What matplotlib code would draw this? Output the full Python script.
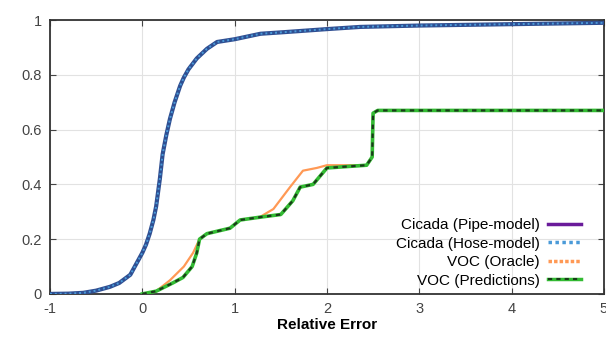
import matplotlib.pyplot as plt
from matplotlib.lines import Line2D

plt.rcParams['font.family'] = ['Liberation Sans', 'DejaVu Sans']
plt.rcParams['axes.unicode_minus'] = False

# CDF curves
cicada_x = [-1, -0.8, -0.64, -0.5, -0.35, -0.25, -0.13, 0, 0.04, 0.08, 0.12, 0.15,
            0.19, 0.22, 0.26, 0.30, 0.35, 0.41, 0.45, 0.5, 0.59, 0.7, 0.81, 1.0,
            1.28, 1.5, 1.71, 2.0, 2.36, 3, 4, 5]
cicada_y = [0, 0.001, 0.004, 0.012, 0.026, 0.04, 0.07, 0.15, 0.18, 0.22, 0.27, 0.32,
            0.42, 0.51, 0.58, 0.64, 0.70, 0.76, 0.79, 0.82, 0.86, 0.895, 0.92, 0.93,
            0.95, 0.955, 0.96, 0.967, 0.975, 0.98, 0.985, 0.99]

pred_x = [0, 0.15, 0.33, 0.44, 0.54, 0.59, 0.62, 0.70, 0.95, 1.06, 1.27, 1.5,
          1.63, 1.71, 1.85, 2.0, 2.43, 2.49, 2.5, 2.55, 5]
pred_y = [0, 0.01, 0.04, 0.06, 0.10, 0.15, 0.2, 0.22, 0.24, 0.27, 0.28, 0.29,
          0.34, 0.39, 0.40, 0.46, 0.47, 0.50, 0.66, 0.67, 0.67]

oracle_x = [0, 0.15, 0.3, 0.45, 0.55, 0.62, 0.70, 0.95, 1.06, 1.27, 1.42, 1.6,
            1.74, 1.89, 2.0, 2.43, 2.49, 2.5, 2.55, 5]
oracle_y = [0, 0.01, 0.05, 0.10, 0.15, 0.2, 0.22, 0.24, 0.27, 0.28, 0.31, 0.39,
            0.45, 0.46, 0.47, 0.47, 0.50, 0.66, 0.67, 0.67]

labels = ['Cicada (Pipe-model)', 'Cicada (Hose-model)', 'VOC (Oracle)', 'VOC (Predictions)']

fig = plt.figure(figsize=(6.06, 3.52), dpi=100)
ax = fig.add_axes([0.0825, 0.165, 0.914, 0.778])

pipe_c = '#2f4f92'
hose_c = '#4a9ad8'
oracle_c = '#ff9955'
pred_c = '#33bb33'

ax.plot(cicada_x, cicada_y, color=pipe_c, lw=3, zorder=3)
ax.plot(cicada_x, cicada_y, color=hose_c, lw=1.4, ls=(0, (1, 1.5)), zorder=4)
ax.plot(oracle_x, oracle_y, color=oracle_c, lw=1.6, zorder=3)
ax.plot(pred_x, pred_y, color=pred_c, lw=2.6, zorder=4)
ax.plot(pred_x, pred_y, color='#1a3a1a', lw=1.6, ls=(0, (2, 2)), zorder=5)

ax.set_xlim(-1, 5)
ax.set_ylim(0, 1)
ax.set_xticks(range(-1, 6))
ax.set_yticks([0, 0.2, 0.4, 0.6, 0.8, 1])
ax.set_yticklabels(['0', '0.2', '0.4', '0.6', '0.8', '1'])
ax.grid(True, color='#e2e2e2', lw=0.8)
ax.tick_params(direction='in', top=True, right=True, length=4, labelsize=10.5,
               colors='#444444', pad=6)
for s in ax.spines.values():
    s.set_linewidth(1.3)
    s.set_color('#333333')
ax.set_xlabel('Relative Error', fontsize=11, fontweight='bold', labelpad=1)

handles = [
    Line2D([], [], color='#6a1b9a', lw=2.5),
    Line2D([], [], color=hose_c, lw=2.5, ls=(0, (1, 1))),
    Line2D([], [], color=oracle_c, lw=2.5, ls=(0, (1, 0.6))),
    (Line2D([], [], color=pred_c, lw=2.5),
     Line2D([], [], color='#1a3a1a', lw=1.5, ls=(0, (2, 2)))),
]
ax.legend(handles, labels, loc='lower right', frameon=False, markerfirst=False,
          fontsize=11, handlelength=2.2, labelspacing=0.3, borderaxespad=0.0,
          handletextpad=0.5, bbox_to_anchor=(0.97, 0.0))

fig.savefig('out.png', dpi=100)
